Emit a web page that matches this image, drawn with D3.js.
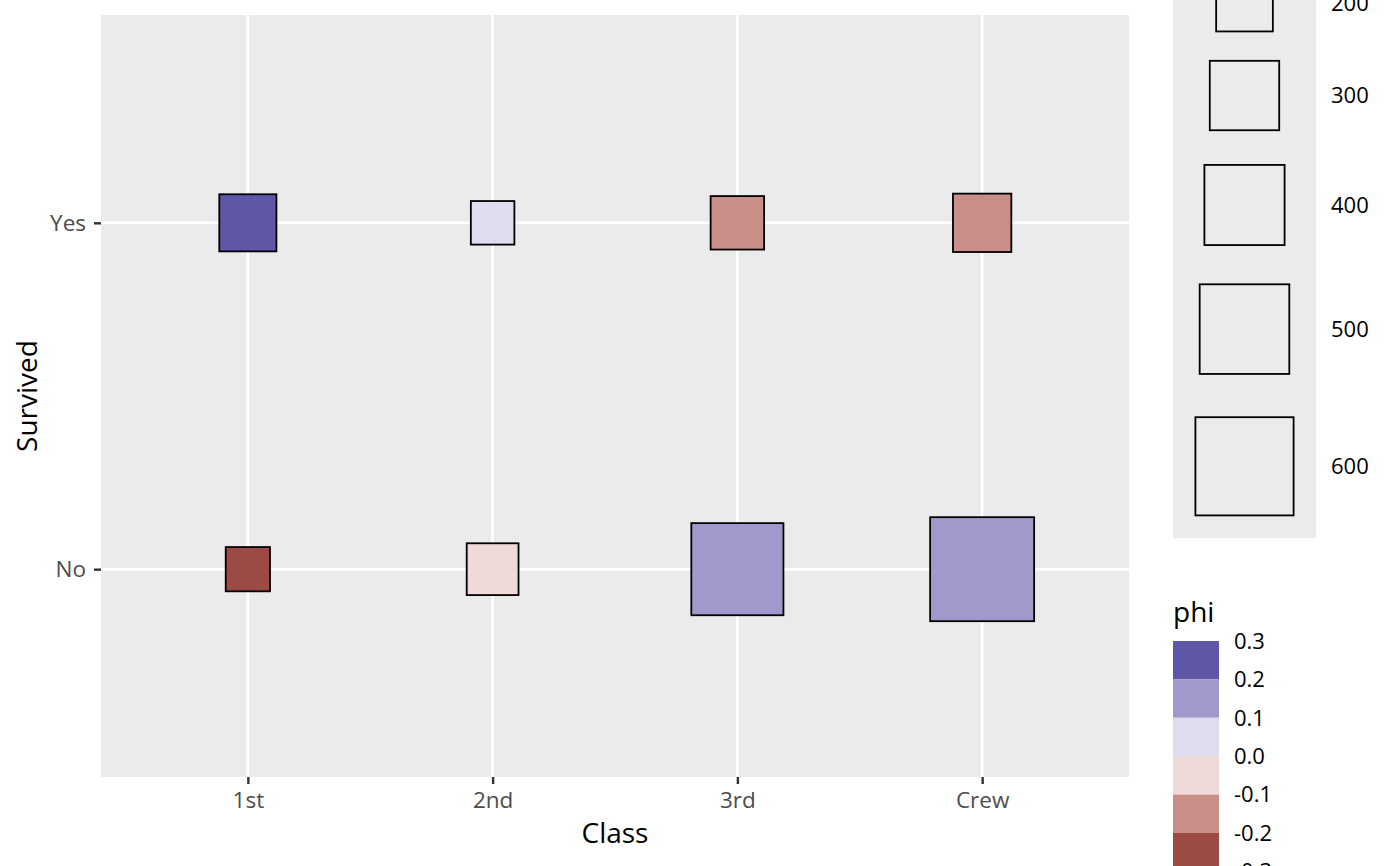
<!DOCTYPE html>
<html lang="en">
    <head>
        <meta charset="utf-8">
        <title>Titanic: Class vs Survived</title>
        <script src="https://d3js.org/d3.v7.min.js"></script>
        <style type="text/css">
         body { margin: 0; background: #fff; }
         text { font-family: "Open Sans", "Noto Sans", sans-serif; }
        </style>
    </head>
    <body>
        <script type="text/javascript">
         //Width and height
         var width = 1400;
         var height = 866;

         //Data
         var classes = ["1st", "2nd", "3rd", "Crew"];
         var survived = ["Yes", "No"];
         var countYes = [203, 118, 178, 212];
         var countNo = [122, 167, 528, 673];
         var phiYes = [0.268, 0.075, -0.104, -0.146];
         var phiNo = [-0.268, -0.075, 0.104, 0.146];
         var sizeBreaks = [200, 300, 400, 500, 600];
         var phiBreaks = [0.3, 0.2, 0.1, 0.0, -0.1, -0.2, -0.3];
         var phiColors = ["#5E56A6", "#A198CB", "#E0DCEF", "#EFD9D9", "#C98E87", "#9B4A44"];

         var cells = [];
         classes.forEach(function(c, i) {
             cells.push({cls: c, surv: "Yes", n: countYes[i], phi: phiYes[i]});
             cells.push({cls: c, surv: "No", n: countNo[i], phi: phiNo[i]});
         });

         //Panel
         var panel = {left: 101, right: 1129, top: 15, bottom: 777};

         var x = d3.scalePoint()
                   .domain(classes)
                   .range([panel.left, panel.right])
                   .padding(0.6);
         var y = d3.scalePoint()
                   .domain(survived)
                   .range([panel.top, panel.bottom])
                   .padding(0.6);
         var side = d3.scaleSqrt()
                      .domain([0, 673])
                      .range([0, 104]);
         // colours run from high phi to low
         var color = d3.scaleThreshold()
                       .domain([-0.2, -0.1, 0, 0.1, 0.2])
                       .range(phiColors.slice().reverse());

         //Create SVG element
         var svg = d3.select("body")
                     .append("svg")
                     .attr("width", width)
                     .attr("height", height);

         svg.append("rect")
            .attr("x", panel.left)
            .attr("y", panel.top)
            .attr("width", panel.right - panel.left)
            .attr("height", panel.bottom - panel.top)
            .attr("fill", "#EBEBEB");

         //Gridlines
         svg.selectAll("line.vgrid")
            .data(classes)
            .enter()
            .append("line")
            .attr("class", "vgrid")
            .attr("x1", d => x(d)).attr("x2", d => x(d))
            .attr("y1", panel.top).attr("y2", panel.bottom)
            .attr("stroke", "#fff").attr("stroke-width", 2.6);
         svg.selectAll("line.hgrid")
            .data(survived)
            .enter()
            .append("line")
            .attr("class", "hgrid")
            .attr("x1", panel.left).attr("x2", panel.right)
            .attr("y1", d => y(d)).attr("y2", d => y(d))
            .attr("stroke", "#fff").attr("stroke-width", 2.6);

         //Axes
         var xAxis = svg.append("g")
                        .attr("transform", "translate(0," + panel.bottom + ")")
                        .call(d3.axisBottom(x).tickSize(7).tickPadding(8));
         var yAxis = svg.append("g")
                        .attr("transform", "translate(" + panel.left + ",0)")
                        .call(d3.axisLeft(y).tickSize(7).tickPadding(8));
         [xAxis, yAxis].forEach(function(g) {
             g.select(".domain").remove();
             g.selectAll(".tick line").attr("stroke", "#333333").attr("stroke-width", 2.4);
             g.selectAll(".tick text")
              .attr("fill", "#4D4D4D")
              .style("font-size", "22.5px")
              .style("font-family", "'Open Sans', sans-serif");
         });

         svg.append("text")
            .attr("x", (panel.left + panel.right) / 2)
            .attr("y", 843)
            .attr("text-anchor", "middle")
            .style("font-size", "28px")
            .text("Class");
         svg.append("text")
            .attr("transform", "translate(37," + (panel.top + panel.bottom) / 2 + ") rotate(-90)")
            .attr("text-anchor", "middle")
            .style("font-size", "28px")
            .text("Survived");

         //Squares
         svg.selectAll("rect.cell")
            .data(cells)
            .enter()
            .append("rect")
            .attr("class", "cell")
            .attr("x", d => x(d.cls) - side(d.n) / 2)
            .attr("y", d => y(d.surv) - side(d.n) / 2)
            .attr("width", d => side(d.n))
            .attr("height", d => side(d.n))
            .attr("fill", d => color(d.phi))
            .attr("stroke", "#000")
            .attr("stroke-width", 1.8);

         //Size legend (keys stacked upward from the bottom of the box)
         var sizeLeg = {left: 1173, right: 1316, bottom: 538};
         var keys = [];
         var cursor = sizeLeg.bottom;
         sizeBreaks.slice().reverse().forEach(function(b) {
             var h = 1.45 * side(b) + 1;
             keys.push({b: b, cy: cursor - h / 2});
             cursor -= h;
         });
         svg.append("rect")
            .attr("x", sizeLeg.left)
            .attr("y", cursor)
            .attr("width", sizeLeg.right - sizeLeg.left)
            .attr("height", sizeLeg.bottom - cursor)
            .attr("fill", "#EBEBEB");
         var cx = (sizeLeg.left + sizeLeg.right) / 2;
         svg.selectAll("rect.sizekey")
            .data(keys)
            .enter()
            .append("rect")
            .attr("class", "sizekey")
            .attr("x", d => cx - side(d.b) / 2)
            .attr("y", d => d.cy - side(d.b) / 2)
            .attr("width", d => side(d.b))
            .attr("height", d => side(d.b))
            .attr("fill", "none")
            .attr("stroke", "#000")
            .attr("stroke-width", 1.8);
         svg.selectAll("text.sizelab")
            .data(keys)
            .enter()
            .append("text")
            .attr("class", "sizelab")
            .attr("x", 1331)
            .attr("y", d => d.cy)
            .attr("dy", "0.35em")
            .style("font-size", "22px")
            .text(d => d.b);

         //Colour legend
         var colLeg = {left: 1173, top: 641, keyW: 46, keyH: 38.4};
         svg.append("text")
            .attr("x", colLeg.left)
            .attr("y", 622)
            .style("font-size", "28px")
            .text("phi");
         svg.selectAll("rect.colkey")
            .data(phiColors)
            .enter()
            .append("rect")
            .attr("class", "colkey")
            .attr("x", colLeg.left)
            .attr("y", (d, i) => colLeg.top + i * colLeg.keyH)
            .attr("width", colLeg.keyW)
            .attr("height", colLeg.keyH)
            .attr("fill", d => d);
         svg.selectAll("text.collab")
            .data(phiBreaks)
            .enter()
            .append("text")
            .attr("class", "collab")
            .attr("x", 1234)
            .attr("y", (d, i) => colLeg.top + i * colLeg.keyH)
            .attr("dy", "0.35em")
            .style("font-size", "22px")
            .text(d => d3.format(".1f")(d).replace("−", "-"));
        </script>
    </body>
</html>
